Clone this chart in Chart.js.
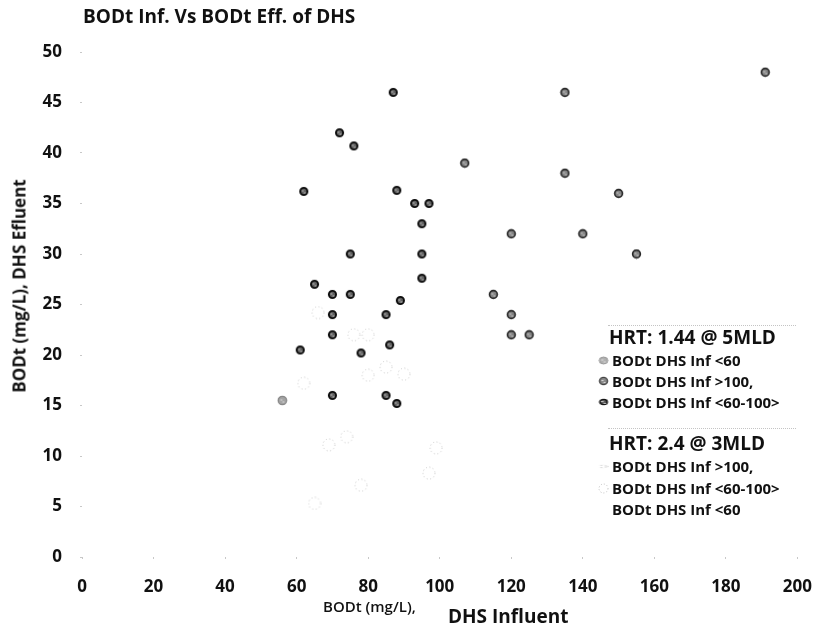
<!DOCTYPE html>
<html>
<head>
<meta charset="utf-8">
<script src="https://cdn.jsdelivr.net/npm/chart.js@4.4.1/dist/chart.umd.min.js"></script>
<style>
  body { margin: 0; background: #fff; }
  .wrap { position: relative; width: 830px; height: 633px; font-family: "Open Sans", sans-serif; color: #111; }
  #chart { position: absolute; left: 0; top: 0; }
  .title { position: absolute; left: 83px; top: 3px; font-size: 19px; font-weight: 700; white-space: nowrap; }
  .ytitle { position: absolute; left: 19px; top: 286px; font-size: 17px; font-weight: 700; white-space: nowrap;
            transform: translate(-50%, -50%) rotate(-90deg); }
  .xtitle1 { position: absolute; left: 323px; top: 596px; font-size: 15px; font-weight: 600; white-space: nowrap; }
  .xtitle2 { position: absolute; left: 448px; top: 603px; font-size: 19px; font-weight: 700; white-space: nowrap; }
  .legend { position: absolute; left: 596px; top: 322px; width: 200px; height: 200px; }
  .legend .rule { position: absolute; left: 12px; right: 0; border-top: 1px dotted #c4c4c4; }
  .legend .head { position: absolute; left: 13px; font-size: 19px; font-weight: 700; white-space: nowrap; line-height: 22px; }
  .legend .item { position: absolute; left: 2px; font-size: 15px; font-weight: 700; white-space: nowrap; line-height: 18px;
                  display: flex; align-items: center; }
  .legend .item canvas { margin-right: 3px; }
</style>
</head>
<body>
<div class="wrap">
  <canvas id="chart" width="830" height="633"></canvas>
  <div class="title">BODt Inf. Vs BODt Eff. of DHS</div>
  <div class="ytitle">BODt (mg/L), DHS Efluent</div>
  <div class="xtitle1">BODt (mg/L),</div>
  <div class="xtitle2">DHS Influent</div>
  <div class="legend" id="legend"></div>
</div>
<script>
// HRT 1.44 @ 5MLD
const below60X = [56];
const below60Y = [15.5];
const above100X = [191, 135, 107, 135, 150, 120, 140, 155, 115, 120, 120, 125];
const above100Y = [48, 46, 39, 38, 36, 32, 32, 30, 26, 24, 22, 22];
const mid60to100X = [87, 72, 76, 62, 88, 93, 97, 95, 75, 95, 95, 65, 70, 75, 89, 85, 70, 70, 86, 61, 78, 70, 85, 88];
const mid60to100Y = [46, 42, 40.7, 36.2, 36.3, 35, 35, 33, 30, 30, 27.6, 27, 26, 26, 25.4, 24, 24, 22, 21, 20.5, 20.2, 16, 16, 15.2];
// HRT 2.4 @ 3MLD (faint dotted)
const hrt24X = [66, 76, 80, 85, 80, 90, 62, 74, 69, 99, 97, 78, 65];
const hrt24Y = [24.2, 22, 22, 18.8, 18, 18.1, 17.2, 11.9, 11.1, 10.8, 8.3, 7.1, 5.3];

const xTicks = { min: 0, max: 200, step: 20 };
const yTicks = { min: 0, max: 50, step: 5 };

function marker(size, fill, stroke, lw, dash) {
  const c = document.createElement("canvas");
  c.width = c.height = size;
  const g = c.getContext("2d");
  g.beginPath();
  g.arc(size / 2, size / 2, size / 2 - lw, 0, Math.PI * 2);
  if (fill) {
    g.fillStyle = fill;
    g.fill();
  }
  g.setLineDash(dash || []);
  g.lineWidth = lw;
  g.strokeStyle = stroke;
  g.stroke();
  // a little speckle like the scanned markers
  if (fill) {
    g.fillStyle = "rgba(255,255,255,0.6)";
    g.fillRect(size / 2 - 2, size / 2 - 1, 2, 1);
    g.fillRect(size / 2, size / 2 + 1, 2, 1);
  }
  return c;
}

const pairs = (xs, ys) => xs.map((x, i) => ({ x: x, y: ys[i] }));

const styles = {
  below60: () => marker(11, "#a4a4a4", "#888", 1.3),
  above100: () => marker(11, "#858585", "#262626", 1.6),
  mid: () => marker(11, "#606060", "#0a0a0a", 1.9),
  hrt24: () => marker(14, null, "#c6c6c6", 1, [1, 2.5]),
  hrt24small: () => marker(5, null, "#c8c8c8", 1, [1, 1.5]),
};

const tickFont = { family: "Open Sans", size: 17, weight: "bold" };
// faint tick dots at the axis, no gridlines
const tickDots = { display: true, drawOnChartArea: false, drawTicks: true, tickLength: 2, color: "#c8c8c8" };

const ctx = document.getElementById("chart");
new Chart(ctx, {
  type: "scatter",
  data: {
    datasets: [
      { label: "HRT 2.4 BODt DHS Inf <60-100>", data: pairs(hrt24X, hrt24Y), pointStyle: styles.hrt24() },
      { label: "BODt DHS Inf <60", data: pairs(below60X, below60Y), pointStyle: styles.below60() },
      { label: "BODt DHS Inf >100,", data: pairs(above100X, above100Y), pointStyle: styles.above100() },
      { label: "BODt DHS Inf <60-100>", data: pairs(mid60to100X, mid60to100Y), pointStyle: styles.mid() },
    ],
  },
  options: {
    responsive: false,
    animation: false,
    events: [],
    layout: { padding: { top: 52, right: 0, left: 0, bottom: 0 } },
    plugins: { legend: { display: false }, tooltip: { enabled: false } },
    scales: {
      x: {
        type: "linear",
        min: xTicks.min,
        max: xTicks.max,
        grid: tickDots,
        border: { display: false },
        ticks: { stepSize: xTicks.step, padding: 18, color: "#111", font: tickFont },
        afterFit: (s) => { s.height = 76; },
      },
      y: {
        type: "linear",
        min: yTicks.min,
        max: yTicks.max,
        grid: tickDots,
        border: { display: false },
        ticks: { stepSize: yTicks.step, padding: 18, color: "#111", font: tickFont },
        afterFit: (s) => { s.width = 82; },
      },
    },
  },
});

// legend built as html, two groups
const legendRows = [
  { type: "rule", top: 3 },
  { type: "head", top: 4, text: "HRT: 1.44 @ 5MLD" },
  { type: "item", top: 29, text: "BODt DHS Inf <60", swatch: () => marker(9, "#b0b0b0", "#999", 1) },
  { type: "item", top: 50, text: "BODt DHS Inf >100,", swatch: () => marker(10, "#8c8c8c", "#444", 1.4) },
  { type: "item", top: 71, text: "BODt DHS Inf <60-100>", swatch: () => marker(8, "#666", "#111", 1.4) },
  { type: "rule", top: 106 },
  { type: "head", top: 110, text: "HRT: 2.4 @ 3MLD" },
  { type: "item", top: 135, text: "BODt DHS Inf >100,", swatch: styles.hrt24small },
  { type: "item", top: 157, text: "BODt DHS Inf <60-100>", swatch: () => marker(11, null, "#bdbdbd", 1, [1, 2]) },
  { type: "item", top: 178, text: "BODt DHS Inf <60", swatch: null },
];
const legendEl = document.getElementById("legend");
legendRows.forEach((r) => {
  const el = document.createElement("div");
  el.className = r.type;
  el.style.top = r.top + "px";
  if (r.type === "item") {
    const sw = r.swatch ? r.swatch() : document.createElement("canvas");
    if (!r.swatch) { sw.width = 10; sw.height = 10; }
    sw.style.width = "11px";
    sw.style.height = sw.height + "px";
    el.appendChild(sw);
  }
  if (r.text) el.appendChild(document.createTextNode(r.text));
  legendEl.appendChild(el);
});
</script>
</body>
</html>
